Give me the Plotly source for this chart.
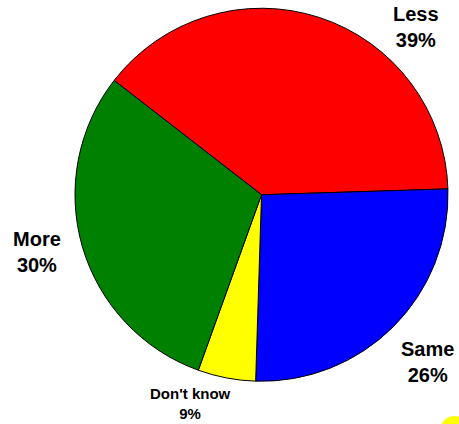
import plotly.graph_objects as go

categories = ["Less", "Same", "Don't know", "More"]
slice_values = [39, 26, 5, 30]
label_percents = ["39%", "26%", "9%", "30%"]
colors = ["#ff0000", "#0000ff", "#ffff00", "#008000"]

W, H = 459, 424

fig = go.Figure()
fig.add_trace(go.Pie(
    labels=categories,
    values=slice_values,
    sort=False,
    direction="clockwise",
    rotation=-52.2,
    marker=dict(colors=colors, line=dict(color="black", width=1)),
    textinfo="none",
    hoverinfo="skip",
    showlegend=False,
    domain=dict(x=[75 / W, 448 / W], y=[1 - 381.25 / H, 1 - 8.25 / H]),
))

# label placement (pixel centres) for each category
label_pos = {
    "Less": (416, 27, 20),
    "Same": (427, 362, 20),
    "Don't know": (190, 403, 15),
    "More": (36.5, 252, 20),
}
for cat, pct in zip(categories, label_percents):
    px, py, fs = label_pos[cat]
    fig.add_annotation(
        x=px / W, y=1 - py / H, xref="paper", yref="paper",
        text=f"<b>{cat}<br>{pct}</b>", showarrow=False,
        xanchor="center", yanchor="middle", align="center",
        font=dict(family="Arial, Liberation Sans, sans-serif", size=fs, color="black"),
    )

# small yellow blob at bottom-right corner
fig.add_shape(type="circle", xref="paper", yref="paper",
              x0=441 / W, x1=469 / W, y0=1 - 440 / H, y1=1 - 416 / H,
              fillcolor="#ffff00", line=dict(width=0))

fig.update_layout(
    width=W, height=H,
    margin=dict(l=0, r=0, t=0, b=0),
    paper_bgcolor="white", plot_bgcolor="white",
)

fig.write_html(
    "out.html",
    config={"displayModeBar": False},
    post_script="document.body.style.margin='0';document.body.style.overflow='hidden';",
)
